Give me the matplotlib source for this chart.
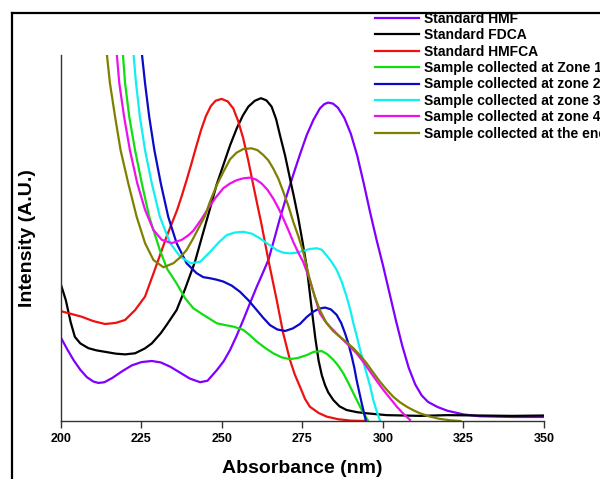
import matplotlib
matplotlib.use("Agg")
import matplotlib.pyplot as plt
from matplotlib.lines import Line2D

plt.rcParams['font.family'] = ['Liberation Sans', 'DejaVu Sans']
plt.rcParams['font.weight'] = 'bold'

# wavelength (nm) / intensity (a.u., 0-100 = visible axis height)
hmf_x = [200, 202, 204, 206, 208, 210, 211.6, 213.5, 216, 219, 222, 225, 228.2, 231, 234, 237, 240,
         243.2, 245.5, 248.4, 250.5, 252.5, 254.5, 256.6, 258.7, 260.8, 262.6, 264.4, 266.2, 268,
         270, 272.1, 274.2, 276.3, 278.4, 280.4, 281.8, 283, 284.5, 286, 288, 290, 292, 294, 296,
         298, 300, 302, 304, 306, 308, 310, 312, 314, 317, 320, 325, 330, 340, 350]
hmf_y = [22.7, 19.5, 16.5, 14, 12, 10.8, 10.4, 10.6, 11.8, 13.6, 15.2, 16.1, 16.4, 16, 14.8, 13.2,
         11.6, 10.6, 11, 13.9, 16.3, 19.4, 23.2, 27.6, 32.2, 36.7, 40.3, 44, 49.6, 55.4, 61.3, 67.2,
         72.8, 78.1, 82.3, 85.4, 86.6, 87, 86.7, 85.6, 82.8, 78.5, 72.5, 65, 57, 49.5, 42.5, 35,
         27.5, 20.5, 14.5, 10, 7, 5.2, 3.8, 2.8, 1.8, 1.3, 1.1, 1.1]

fdca_x = [200, 201.5, 203, 204.3, 206, 208.5, 211, 213.7, 217, 219.9, 223, 226, 228.2, 231, 233,
          235.9, 238.5, 241.6, 244, 246.3, 248.3, 250.4, 252.5, 254.6, 256.5, 258.2, 260.2, 262.1,
          263.8, 265.4, 266.8, 268, 269.6, 271.1, 272.4, 273.7, 275, 276.3, 277.9, 279, 280, 281,
          282, 283, 284.6, 286.5, 288.7, 292, 295, 301.1, 311.5, 320, 330, 340, 350]
fdca_y = [37.2, 33, 27, 23, 21.2, 19.9, 19.3, 18.9, 18.4, 18.2, 18.5, 19.8, 21.2, 24, 26.5, 30.3,
          36, 43.5, 51, 58.1, 64.5, 69.9, 75.3, 80, 83.5, 85.9, 87.5, 88.2, 87.6, 85.9, 82.5, 78.1,
          72.5, 66.3, 61, 55.4, 49, 42.2, 30.3, 22.5, 16.5, 12.5, 9.8, 7.8, 5.7, 4, 3, 2.4, 2.1,
          1.6, 1.4, 1.6, 1.5, 1.4, 1.5]

hmfca_x = [200, 203, 206.4, 210, 213.7, 217, 219.9, 223, 226.1, 229, 232.8, 236, 237.5, 239, 240.5,
           242, 243.5, 245, 246.5, 248, 249.9, 251.8, 253.5, 255, 256.6, 258.2, 259.7, 261, 262.3,
           264.4, 265.7, 267, 269, 271.1, 272.6, 274.2, 275.8, 277.3, 280, 282.5, 286, 290, 295]
hmfca_y = [30, 29.3, 28.5, 27.3, 26.5, 26.8, 27.6, 30.3, 34, 41, 50.4, 57.5, 61.5, 65.8, 70.3, 75,
           79.5, 83.3, 86, 87.5, 88, 87.3, 85.4, 82, 77.2, 71, 64.5, 59, 53.6, 44, 38.5, 33, 24,
           16.7, 12.7, 9.4, 6, 3.9, 2.2, 1.2, 0.5, 0.1, 0]

zone1_x = [218.5, 219.2, 219.9, 221.2, 223, 225.1, 227.4, 230.7, 233, 235.9, 238.5, 241.1, 244.2,
           248.4, 251, 253.5, 256.6, 258.7, 260.8, 263.5, 265.9, 268.5, 271.1, 273.5, 276.3, 278.5,
           281, 282.8, 284.6, 286.2, 287.7, 289.3, 290.8, 292.1, 293.4, 295.4]
zone1_y = [110, 100.5, 92.3, 83.1, 74, 64.9, 55.8, 46.7, 41.5, 37.6, 33.6, 30.8, 29, 26.7, 26.2,
           25.8, 24.9, 23.4, 21.7, 19.9, 18.5, 17.4, 16.9, 17.2, 18, 18.9, 19.1, 18.2, 16.7, 15,
           13, 10.3, 7.6, 5.3, 3, 0]

zone2_x = [224.5, 225.1, 226.1, 227.4, 229, 231, 233.3, 235.9, 239, 242.1, 244.2, 246.3, 248.4,
           250.4, 253, 255.6, 258.2, 260.8, 262.8, 264.9, 267.2, 269.6, 272, 274.2, 276.3, 278.4,
           280.2, 282, 283.8, 285.6, 287, 288.2, 289.3, 290.3, 291.1, 291.8, 293.4, 294.7]
zone2_y = [110, 100.5, 92.3, 83.1, 74, 64.9, 55.8, 48.6, 43.1, 40.4, 39.3, 39, 38.6, 38.1, 37,
           35.3, 33, 30.3, 28.2, 26.2, 25, 24.6, 25.3, 26.5, 28.4, 29.9, 30.7, 31, 30.5, 29, 26.8,
           24, 21, 17.6, 14.5, 11.2, 4.8, 0]

zone3_x = [221.8, 222.5, 223.3, 224.5, 226.1, 228.2, 230.7, 233.9, 237, 240.3, 243.2, 246.3, 249,
           251.5, 254, 256.6, 259.2, 261.8, 264.4, 267, 269, 271.1, 273.2, 275.2, 277.3, 279.4, 281,
           282.5, 284, 285.6, 287.2, 288.7, 289.8, 290.8, 291.9, 292.9, 293.9, 294.9, 296, 297, 298,
           299.1]
zone3_y = [110, 100.5, 92.3, 83.1, 74, 64.9, 55.8, 48.6, 44.9, 43.1, 43.5, 46.2, 48.8, 50.8, 51.5,
           51.7, 51.2, 49.9, 48.3, 46.7, 46, 45.8, 46, 46.5, 47, 47.2, 46.8, 45.2, 43.5, 41.3, 38,
           34, 30.5, 26.7, 23, 19.4, 16.2, 13, 9.5, 5.7, 2.8, 0]

zone4_x = [216.8, 217.3, 218.1, 219.6, 221.4, 223.7, 226.1, 228.7, 231.3, 234.4, 237.5, 239.5,
           241.1, 243.5, 245.5, 248, 250.4, 252.5, 254.6, 256.6, 258.7, 260.5, 262.3, 264.1, 265.9,
           267.5, 269, 270.6, 272.1, 273.7, 275.2, 277.3, 278.8, 280.4, 282, 283.5, 285.5, 287.7,
           289.8, 291.8, 294, 296, 298, 300.1, 302.2, 304.3, 306.3, 308.4]
zone4_y = [110, 100.5, 92.3, 83.1, 74, 64.9, 57.7, 52.2, 49.5, 48.6, 49.5, 50.7, 52, 55, 57.8, 61,
           63.6, 64.9, 65.8, 66.3, 66.5, 66, 64.9, 63.2, 60.8, 58.2, 55.4, 52.2, 49, 46, 43.5, 38.5,
           34, 29.4, 27.3, 25.8, 24, 22.1, 20.3, 18.5, 16, 13.5, 11, 8.5, 6.2, 3.9, 2, 0.3]

end_x = [213.8, 214.2, 215.2, 216.8, 218.5, 220.9, 223.5, 226.1, 228.7, 231.8, 234.9, 237, 239, 241,
         243.2, 244.7, 246.3, 248.4, 250.5, 252.5, 254.5, 256.6, 259.2, 261, 262.8, 264.4, 265.9,
         267.5, 269, 270.6, 272.1, 273.7, 275.2, 277.3, 278.8, 280.4, 282.5, 284.5, 286.6, 288.7,
         290.8, 292.8, 294.9, 297, 299.1, 301.1, 303.2, 305.3, 307.4, 309.5, 311.5, 314.6, 317.5,
         320.8, 324]
end_y = [110, 100.5, 92.3, 83.1, 74, 64.9, 55.8, 48.6, 44, 42, 43.1, 44.7, 46.7, 49.8, 53.5, 56, 60,
         64.5, 68.2, 71.5, 73.3, 74.3, 74.5, 74, 72.7, 71.2, 69, 66.2, 62.7, 58.8, 54.5, 50.5, 46.3,
         38.5, 34, 30.3, 26.7, 24.6, 23, 21.5, 19.9, 18, 15.8, 13.2, 10.7, 8.6, 6.6, 5.1, 3.9, 2.9,
         2.1, 1.2, 0.6, 0.2, 0]

labels = ["Standard HMF", "Standard FDCA", "Standard HMFCA", "Sample collected at Zone 1",
          "Sample collected at zone 2", "Sample collected at zone 3", "Sample collected at zone 4",
          "Sample collected at the end"]
colors = ["#8000ff", "#000000", "#ee1111", "#11dd11", "#0a0ac8", "#11f0f0", "#ee11ee", "#808000"]
series = [(hmf_x, hmf_y), (fdca_x, fdca_y), (hmfca_x, hmfca_y), (zone1_x, zone1_y),
          (zone2_x, zone2_y), (zone3_x, zone3_y), (zone4_x, zone4_y), (end_x, end_y)]
xticks = [200, 225, 250, 275, 300, 325, 350]

fig = plt.figure(figsize=(6, 4.79), dpi=100)
ax = fig.add_axes([61 / 600, 58 / 479, 483 / 600, 366 / 479])

for (xs, ys), lab, c in zip(series, labels, colors):
    ax.plot(xs, ys, color=c, lw=1.6, label=lab, solid_joinstyle='round')

ax.set_xlim(200, 350)
ax.set_ylim(0, 100)
ax.set_xticks(xticks)
ax.set_xticklabels([str(t) for t in xticks], fontsize=9, fontweight='bold')
ax.set_yticks([])
for s in ["top", "right"]:
    ax.spines[s].set_visible(False)
for s in ["left", "bottom"]:
    ax.spines[s].set_color("#333333")
    ax.spines[s].set_linewidth(1.0)
ax.tick_params(axis='x', length=5, width=1, color="#333333", pad=4)
ax.set_xlabel("Absorbance (nm)", fontsize=14, fontweight='bold', labelpad=10.5)
ax.set_ylabel("Intensity (A.U.)", fontsize=14, fontweight='bold', labelpad=18)

# legend sits outside the axes and runs off the right edge, as in the source figure
fig.legend(loc='upper left', bbox_to_anchor=(375 / 600, 1 - 12 / 479), frameon=False,
           handlelength=3.2, handletextpad=0.3, labelspacing=0.17,
           borderpad=0, borderaxespad=0, prop={'weight': 'bold', 'size': 10})

# outer frame (only top and left visible in the crop)
fig.add_artist(Line2D([12 / 600, 12 / 600], [0, 1 - 13 / 479], transform=fig.transFigure,
                      color='black', lw=1.6))
fig.add_artist(Line2D([12 / 600, 1], [1 - 13 / 479, 1 - 13 / 479], transform=fig.transFigure,
                      color='black', lw=1.6))

fig.savefig("out.png", dpi=100)
